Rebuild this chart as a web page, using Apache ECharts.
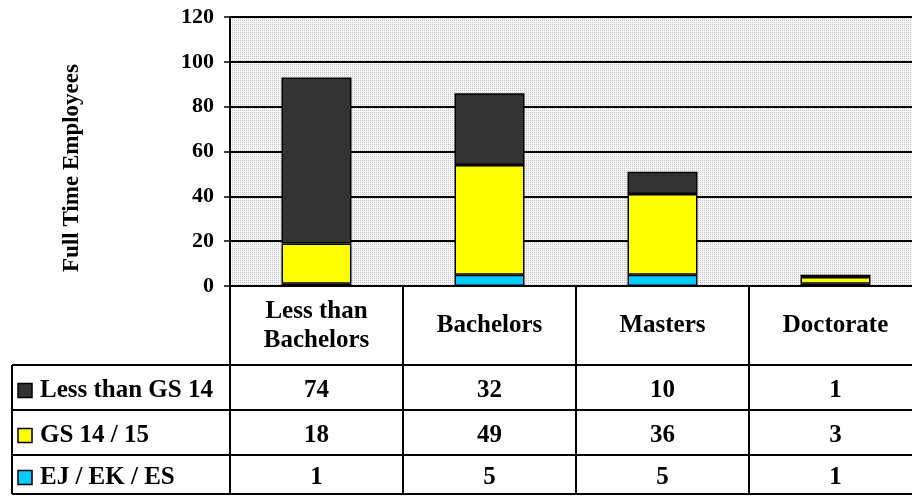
<!DOCTYPE html>
<html>
<head>
<meta charset="utf-8">
<script src="https://cdn.jsdelivr.net/npm/echarts@6/dist/echarts.min.js"></script>
<style>
  html, body { margin: 0; padding: 0; background: #fff; }
  #chart { width: 912px; height: 496px; }
</style>
</head>
<body>
<div id="chart"></div>
<script>
// data
const categories = ['Less than\nBachelors', 'Bachelors', 'Masters', 'Doctorate'];
const seriesNames = ['Less than GS 14', 'GS 14 / 15', 'EJ / EK / ES'];
const lessThanGS14 = [74, 32, 10, 1];
const gs1415 = [18, 49, 36, 3];
const ejEkEs = [1, 5, 5, 1];
const yTicks = [0, 20, 40, 60, 80, 100, 120];

const FONT = 'Liberation Serif';
const colors = { lt: '#333333', gs: '#ffff00', ej: '#00ccff' };

// dotted background like the original
const pat = document.createElement('canvas');
pat.width = 4; pat.height = 4;
const pctx = pat.getContext('2d');
pctx.fillStyle = '#f6f6f6';
pctx.fillRect(0, 0, 4, 4);
pctx.fillStyle = '#c4c4c4';
[[0, 0], [2, 0], [0, 2], [2, 2]].forEach(p => pctx.fillRect(p[0], p[1], 1, 1));

const chart = echarts.init(document.getElementById('chart'));

const barStyle = (c) => ({ color: c, borderColor: '#000', borderWidth: 1.5 });

const option = {
  animation: false,
  grid: {
    left: 230, top: 17, width: 692, height: 269,
    outerBoundsMode: 'none', containLabel: false,
    show: true, borderWidth: 0,
    backgroundColor: { image: pat, repeat: 'repeat' }
  },
  xAxis: {
    type: 'category',
    data: categories,
    axisLine: { lineStyle: { color: '#000', width: 2 } },
    axisTick: { show: true, length: 208, lineStyle: { color: '#000', width: 2 } },
    axisLabel: {
      interval: 0, margin: 40, verticalAlign: 'middle',
      fontFamily: FONT, fontWeight: 'bold', fontSize: 25, color: '#000', lineHeight: 29
    }
  },
  yAxis: {
    type: 'value',
    min: yTicks[0], max: yTicks[yTicks.length - 1], interval: 20,
    axisLine: { show: true, lineStyle: { color: '#000', width: 2 } },
    axisTick: { show: true, length: 6, lineStyle: { color: '#000', width: 1.5 } },
    axisLabel: { fontFamily: FONT, fontWeight: 'bold', fontSize: 22, color: '#000', margin: 16 },
    splitLine: { lineStyle: { color: '#000', width: 2 } }
  },
  series: [
    { name: seriesNames[2], type: 'bar', stack: 'a', data: ejEkEs, barWidth: 70, itemStyle: barStyle(colors.ej) },
    { name: seriesNames[1], type: 'bar', stack: 'a', data: gs1415, barWidth: 70, itemStyle: barStyle(colors.gs) },
    { name: seriesNames[0], type: 'bar', stack: 'a', data: lessThanGS14, barWidth: 70, itemStyle: barStyle(colors.lt) }
  ]
};
chart.setOption(option);

// data table under the plot
const rowLines = [365, 410, 455, 494];
const rows = [
  { name: seriesNames[0], color: colors.lt, vals: lessThanGS14 },
  { name: seriesNames[1], color: colors.gs, vals: gs1415 },
  { name: seriesNames[2], color: colors.ej, vals: ejEkEs }
];
const g = [];
rowLines.forEach(y => {
  g.push({ type: 'line', shape: { x1: 12, y1: y, x2: 912, y2: y }, style: { stroke: '#000', lineWidth: 2 } });
});
g.push({ type: 'line', shape: { x1: 12, y1: 365, x2: 12, y2: 494 }, style: { stroke: '#000', lineWidth: 2 } });
rows.forEach((r, i) => {
  const cy = (rowLines[i] + rowLines[i + 1]) / 2 + 3;
  g.push({ type: 'rect', shape: { x: 18, y: cy - 7, width: 14, height: 14 }, style: { fill: r.color, stroke: '#000', lineWidth: 1.5 } });
  g.push({ type: 'text', x: 40, y: cy, style: {
    text: r.name, font: 'bold 25px "' + FONT + '"', fill: '#000', verticalAlign: 'middle', align: 'left' } });
  r.vals.forEach((v, j) => {
    const cx = chart.convertToPixel({ xAxisIndex: 0 }, j);
    g.push({ type: 'text', x: cx, y: cy, style: {
      text: String(v), font: 'bold 25px "' + FONT + '"', fill: '#000', align: 'center', verticalAlign: 'middle' } });
  });
});
g.push({ type: 'text', x: 72, y: 168, rotation: Math.PI / 2, style: {
  text: 'Full Time Employees', font: 'bold 23px "' + FONT + '"', fill: '#000', align: 'center', verticalAlign: 'middle' } });
chart.setOption({ graphic: g });
</script>
</body>
</html>
